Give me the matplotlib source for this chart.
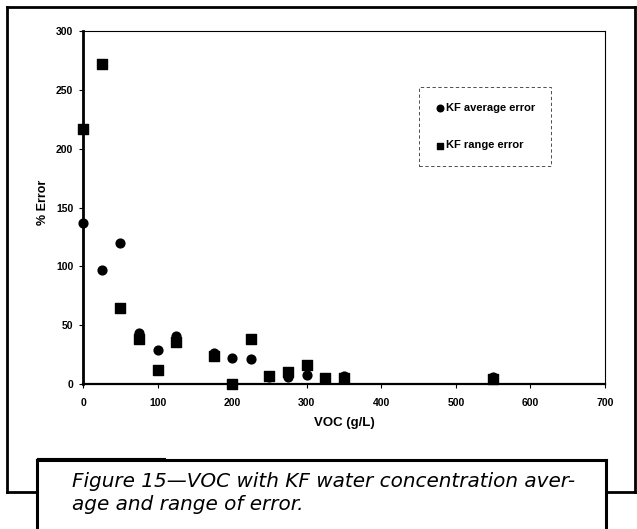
import matplotlib.pyplot as plt
from matplotlib.lines import Line2D

# Data
avg_voc = [0, 25, 50, 75, 100, 125, 175, 200, 225, 250, 275, 300, 350, 550]
avg_err = [137, 97, 120, 43, 29, 41, 26, 22.5, 21.5, 6, 6, 7.5, 7, 6]
rng_voc = [0, 25, 50, 75, 100, 125, 175, 200, 225, 250, 275, 300, 325, 350, 550]
rng_err = [217, 272, 65, 38, 12, 36, 24, 0, 38, 7, 10, 16, 5, 5, 4]

x_ticks = [0, 100, 200, 300, 400, 500, 600, 700]
y_ticks = [0, 50, 100, 150, 200, 250, 300]

caption = 'Figure 15\u2014VOC with KF water concentration aver-\nage and range of error.'

fig = plt.figure(figsize=(6.37, 5.29), dpi=100)
ax = fig.add_axes([0.1303, 0.2741, 0.8195, 0.6673])

ax.scatter(avg_voc, avg_err, marker='o', s=40, color='black', label='KF average error', zorder=3, clip_on=False)
ax.scatter(rng_voc, rng_err, marker='s', s=44, color='black', label='KF range error', zorder=3, clip_on=False)

ax.set_xlim(0, 700)
ax.set_ylim(0, 300)
ax.set_xticks(x_ticks)
ax.set_yticks(y_ticks)
ax.tick_params(labelsize=7.5, length=3, width=0.8, pad=4)
ax.tick_params(axis='x', pad=7)
for lab in ax.get_xticklabels() + ax.get_yticklabels():
    lab.set_fontweight('bold')
    lab.set_family('Liberation Sans')
for sp in ax.spines.values():
    sp.set_linewidth(0.8)
    sp.set_linestyle((0, (6, 1)))
ax.spines['left'].set_linewidth(2.0)
ax.spines['left'].set_linestyle('-')
ax.spines['bottom'].set_linewidth(1.6)
ax.spines['bottom'].set_linestyle('-')

ax.set_xlabel('VOC (g/L)', fontsize=9.5, fontweight='bold', family='Liberation Sans')
ax.xaxis.set_label_coords(0.501, -0.094)
ax.set_ylabel('% Error', fontsize=9, fontweight='bold', family='Liberation Sans')
ax.yaxis.set_label_coords(-0.066, 0.515)

leg = ax.legend(loc='upper left', bbox_to_anchor=(0.644, 0.841), borderaxespad=0, frameon=True,
                fancybox=False, edgecolor='black', labelspacing=2.5, handletextpad=0.0, borderpad=1.4,
                handlelength=1.0, markerscale=0.75,
                prop={'family': 'Liberation Sans', 'weight': 'bold', 'size': 8})
leg.get_frame().set_linewidth(0.6)
leg.get_frame().set_linestyle((0, (4, 3)))

# page frame and caption box of the scanned figure
def fline(xs, ys, lw=2.0):
    fig.add_artist(Line2D([x / 637 for x in xs], [1 - y / 529 for y in ys], color='black', lw=lw))

fline([7, 7], [7, 492])
fline([7, 635], [7, 7])
fline([635, 635], [7, 492])
fline([7, 37], [492, 492])
fline([606, 635], [492, 492])
fline([37, 165], [458, 458], lw=0.8)
fline([37, 606], [460, 460], lw=2.2)
fline([37, 37], [460, 529], lw=2.2)
fline([606, 606], [460, 529], lw=2.2)

cap = fig.text(72 / 637, 1 - 472 / 529, caption, fontsize=13, style='italic', family='DejaVu Sans',
               va='top', ha='left', linespacing=1.3)
# fit the caption to the width it has in the scan
r = fig.canvas.get_renderer()
w = cap.get_window_extent(r).width
cap.set_fontsize(13 * 503 / w)

fig.savefig('out.png', dpi=100)
